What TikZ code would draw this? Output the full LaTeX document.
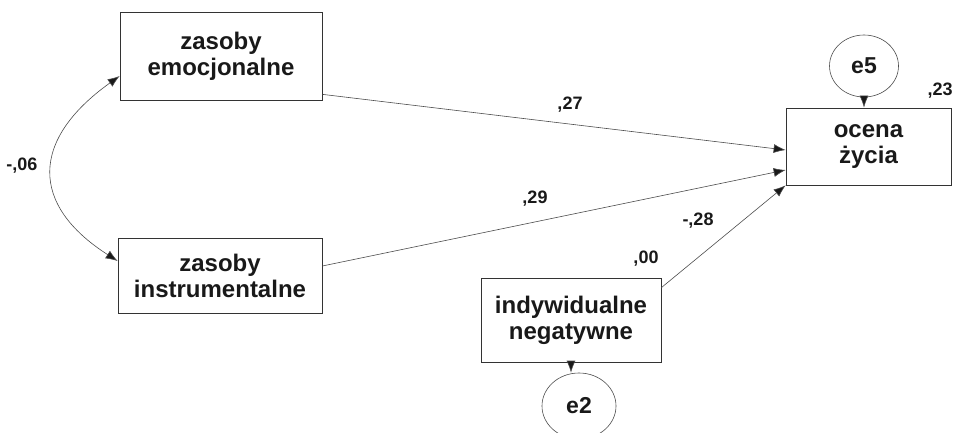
\documentclass[tikz,border=0pt]{standalone}
\usepackage{fontspec}
\setmainfont{Liberation Sans}
\usetikzlibrary{arrows.meta,shapes.geometric}

\tikzset{
  varbox/.style={draw=black!80, line width=0.7pt, rectangle, inner sep=0pt,
    align=center, font=\fontsize{24}{26}\selectfont\bfseries, text=black!90},
  errnode/.style={draw=black!70, line width=0.6pt, ellipse, inner sep=0pt,
    font=\fontsize{23}{23}\selectfont\bfseries, text=black!90},
  coef/.style={font=\fontsize{18}{18}\selectfont\bfseries, text=black!90},
  path/.style={draw=black!70, line width=0.6pt, -{Latex[length=12pt,width=9pt,fill=black!90]}},
}

\begin{document}
\begin{tikzpicture}[x=1pt, y=-1pt]
        \useasboundingbox (0,0) rectangle (958,433);
        \clip (0,0) rectangle (958,433);

        % observed variables
        \node[varbox, minimum width=202pt, minimum height=88pt] (emo) at (221,56) {zasoby\\emocjonalne};
        \node[varbox, minimum width=204pt, minimum height=75pt] (instr) at (220,275.5) {zasoby\\instrumentalne};
        \node[varbox, minimum width=165pt, minimum height=77pt] (ocena) at (868.5,146.5) {ocena\\życia};
        \node[varbox, minimum width=180pt, minimum height=84pt] (indyw) at (571,320) {indywidualne\\negatywne};

        % error terms
        \node[errnode, minimum width=69pt, minimum height=62pt] (e5) at (864,66) {e5};
        \node[errnode, minimum width=74pt, minimum height=66pt] (e2) at (579,406) {e2};

        % paths
        \draw[path] ([yshift=6pt]emo.south east) -- ([yshift=-3.5pt]ocena.west);
        \draw[path] ([yshift=9.5pt]instr.east) -- ([yshift=-23.5pt]ocena.west);
        \draw[path] ([yshift=-10pt]indyw.north east) -- (ocena.south west);
        \draw[path] (e5.south) -- (e5.south |- ocena.north);
        \draw[path] (indyw.south) -- (indyw.south |- e2.north);

        % covariance
        \draw[path, {Latex[length=12pt,width=9pt,fill=black!90]}-{Latex[length=12pt,width=9pt,fill=black!90]}]
          ([yshift=-20pt]emo.west) .. controls (30,140) and (30,205) .. ([yshift=14.5pt]instr.west);

        % coefficients
        \node[coef] (c06) at (22,166) {-,06};
        \node[coef] (c27) at (570,105) {,27};
        \node[coef] (c29) at (535,199) {,29};
        \node[coef] (c28) at (698,221) {-,28};
        \node[coef] (c00) at (646,259) {,00};
        \node[coef] (c23) at (940,91) {,23};
    \end{tikzpicture}
\end{document}
